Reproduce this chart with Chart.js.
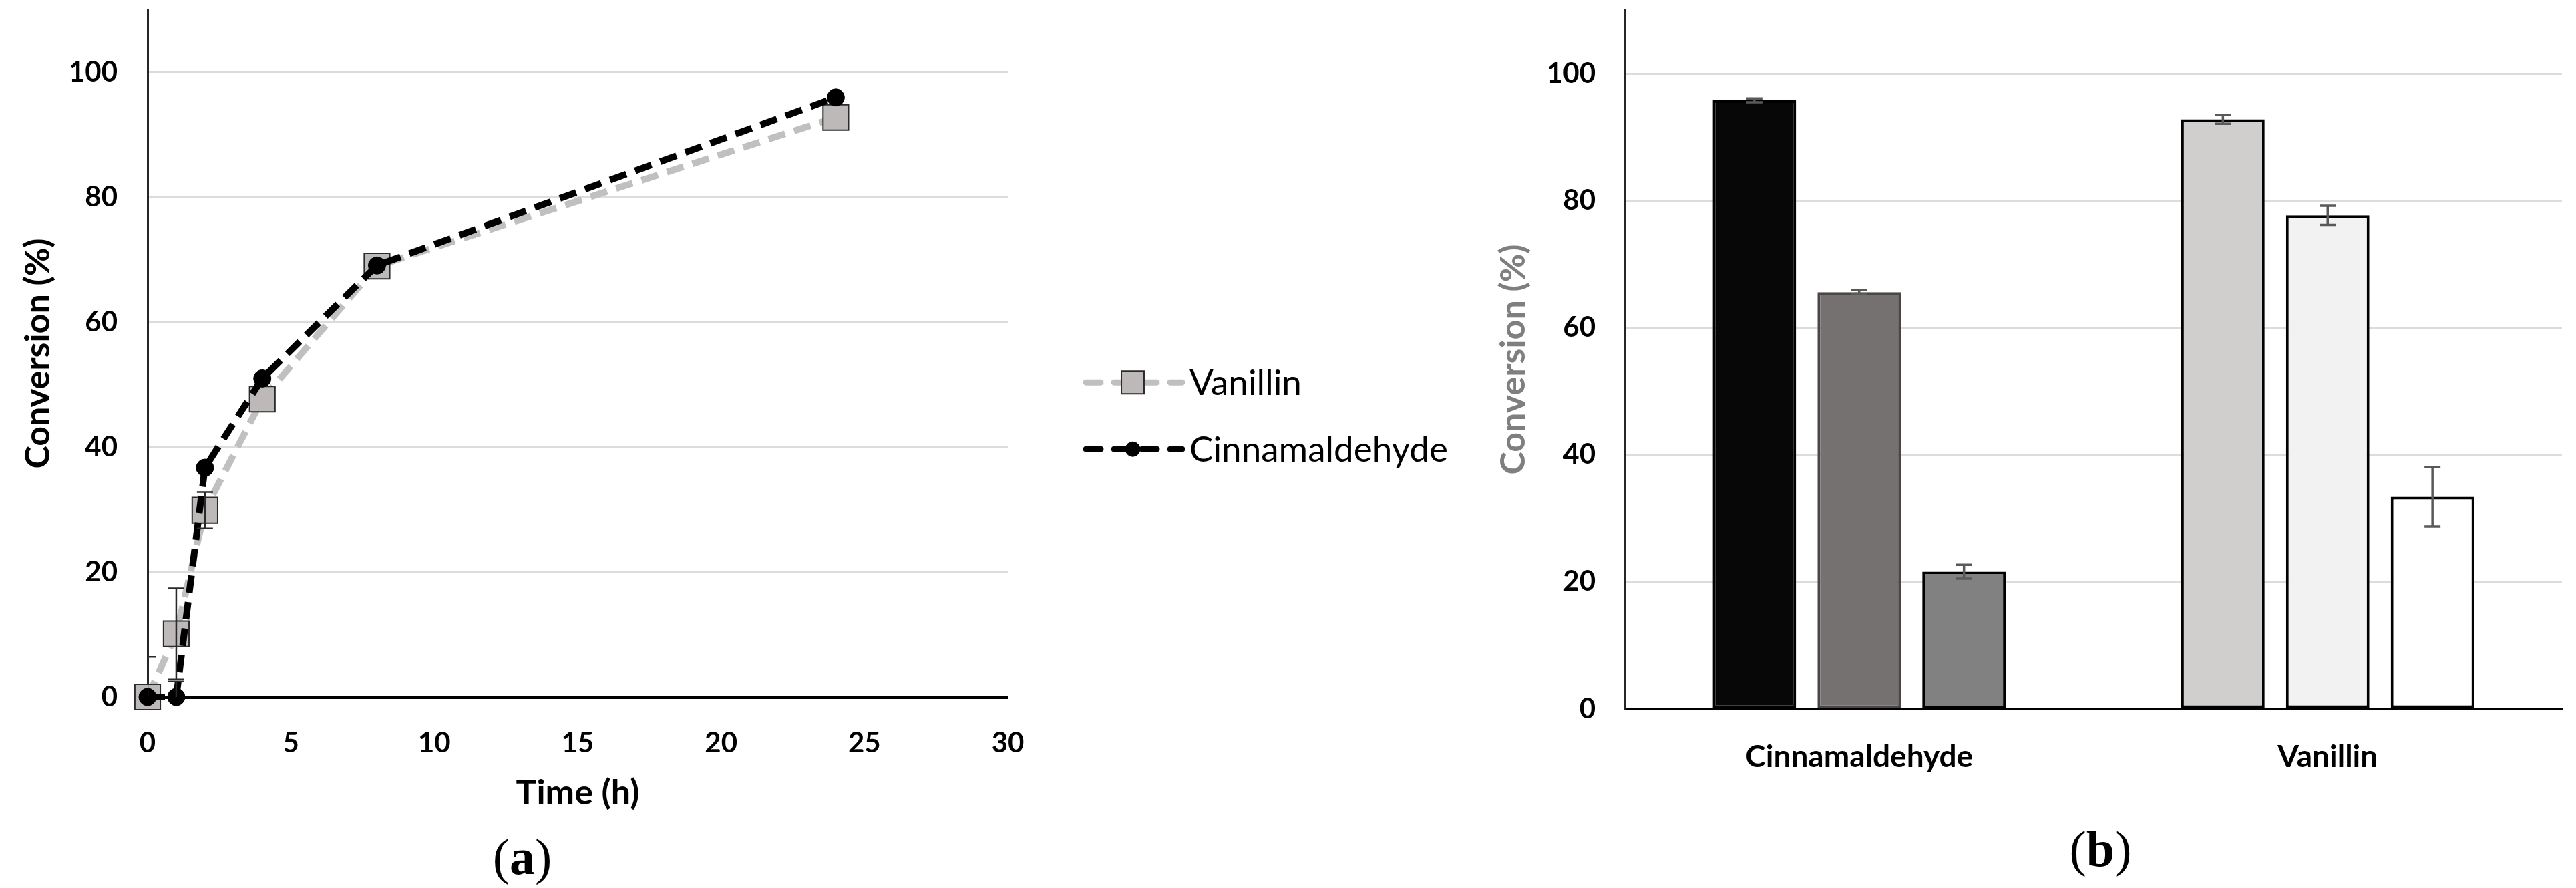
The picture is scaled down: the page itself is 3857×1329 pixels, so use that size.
<!DOCTYPE html>
<html>
<head>
<meta charset="utf-8">
<script src="https://cdn.jsdelivr.net/npm/chart.js@4.4.1/dist/chart.umd.min.js"></script>
<style>
  html, body { margin: 0; padding: 0; background: #fff; }
  body { width: 3857px; height: 1329px; position: relative; overflow: hidden; }
  canvas { position: absolute; top: 0; }
  #timeChart { left: 0; }
  #barChart { left: 2200px; }
  .panel {
    position: absolute;
    font-family: 'Liberation Serif', 'Times New Roman', serif;
    font-size: 76px;
    line-height: 1;
    color: #000;
    transform: translate(-50%, -50%);
    white-space: nowrap;
  }
</style>
</head>
<body>
<canvas id="timeChart" width="2200" height="1329"></canvas>
<canvas id="barChart" width="1657" height="1329"></canvas>
<div class="panel" style="left:782px; top:1282px">(<b>a</b>)</div>
<div class="panel" style="left:3145px; top:1270px">(<b>b</b>)</div>
<script>
// (a) conversion vs time
const hours = [0, 1, 2, 4, 8, 24];
const vanillin = [0, 10.1, 29.9, 47.7, 69, 92.8];
const vanillinErr = [6.4, 7.3, 2.9, 0, 0, 0];
const cinnamaldehyde = [0, 0, 36.7, 51, 69.1, 96];
const cinnamaldehydeErr = [0, 2.5, 0, 0, 0, 0];
const timeTicks = [0, 5, 10, 15, 20, 25, 30];
const conversionTicks = [0, 20, 40, 60, 80, 100];

// (b) conversion per substrate, three bars each
const substrates = ['Cinnamaldehyde', 'Vanillin'];
const barFirst = [95.8, 92.8];
const barFirstErr = [0.3, 0.7];
const barSecond = [65.6, 77.7];
const barSecondErr = [0.3, 1.5];
const barThird = [21.6, 33.4];
const barThirdErr = [1.1, 4.7];

const tickFont = { family: 'Lato', size: 42, weight: 'bold' };
const titleFont = { family: 'Lato', size: 52, weight: 'bold' };

// keep the plot box where the reference has it
function fixWidth(w) {
  return s => { s.width = w; s.paddingTop = 0; s.paddingBottom = 0; };
}
function fixHeight(h) {
  return s => { s.height = h; s.paddingLeft = 0; s.paddingRight = 0; };
}

// vertical error bars drawn from each dataset's "errors" array
const errorBars = {
  id: 'errorBars',
  afterDatasetsDraw(chart) {
    const ctx = chart.ctx;
    const area = chart.chartArea;
    const yScale = chart.scales.y;
    ctx.save();
    ctx.beginPath();
    ctx.rect(area.left, area.top, area.right - area.left, area.bottom - area.top);
    ctx.clip();
    chart.data.datasets.forEach((ds, i) => {
      if (!ds.errors) return;
      const meta = chart.getDatasetMeta(i);
      ctx.strokeStyle = ds.errorColor || '#333';
      ctx.lineWidth = ds.errorWidth || 2;
      const cap = (ds.capWidth || 24) / 2;
      ds.errors.forEach((err, j) => {
        if (!err) return;
        const v = ds.data[j].y !== undefined ? ds.data[j].y : ds.data[j];
        const x = meta.data[j].x;
        const top = yScale.getPixelForValue(v + err);
        const bottom = yScale.getPixelForValue(v - err);
        ctx.beginPath();
        ctx.moveTo(x, top);
        ctx.lineTo(x, bottom);
        ctx.moveTo(x - cap, top);
        ctx.lineTo(x + cap, top);
        ctx.moveTo(x - cap, bottom);
        ctx.lineTo(x + cap, bottom);
        ctx.stroke();
      });
    });
    ctx.restore();
  }
};

// legend with dashed line + marker, placed right of the plot
const lineLegend = {
  id: 'lineLegend',
  afterDraw(chart) {
    const ctx = chart.ctx;
    const area = chart.chartArea;
    const x0 = area.right + 113;
    const lineLen = 148;
    chart.data.datasets.forEach((ds, i) => {
      const y = area.top + (area.bottom - area.top) * 0.542 + i * 100;
      ctx.save();
      ctx.strokeStyle = ds.borderColor;
      ctx.lineWidth = 9;
      ctx.lineCap = 'round';
      ctx.setLineDash([22, 20]);
      ctx.beginPath();
      ctx.moveTo(x0 + 4, y);
      ctx.lineTo(x0 + lineLen, y);
      ctx.stroke();
      ctx.setLineDash([]);
      ctx.fillStyle = ds.pointBackgroundColor;
      ctx.strokeStyle = ds.pointBorderColor;
      ctx.lineWidth = ds.pointBorderWidth;
      Chart.helpers.drawPoint(ctx, {
        pointStyle: ds.pointStyle,
        radius: ds.legendRadius,
        borderWidth: ds.pointBorderWidth
      }, x0 + lineLen / 2, y);
      ctx.fillStyle = '#000';
      ctx.font = '53px Lato';
      ctx.textBaseline = 'middle';
      ctx.fillText(ds.label, x0 + lineLen + 11, y + 2);
      ctx.restore();
    });
  }
};

new Chart(document.getElementById('timeChart'), {
  type: 'line',
  data: {
    datasets: [
      {
        label: 'Vanillin',
        data: hours.map((h, i) => ({ x: h, y: vanillin[i] })),
        errors: vanillinErr,
        errorColor: '#2a2a2a',
        errorWidth: 2.5,
        capWidth: 24,
        order: 2,
        borderColor: '#c0c0c0',
        borderWidth: 10,
        borderDash: [26, 14],
        pointStyle: 'rect',
        pointRadius: 27,
        legendRadius: 24,
        pointBackgroundColor: '#bdb9b9',
        pointBorderColor: '#2b2b2b',
        pointBorderWidth: 2,
        tension: 0,
        clip: false
      },
      {
        label: 'Cinnamaldehyde',
        data: hours.map((h, i) => ({ x: h, y: cinnamaldehyde[i] })),
        errors: cinnamaldehydeErr,
        errorColor: '#2a2a2a',
        errorWidth: 2.5,
        capWidth: 24,
        order: 1,
        borderColor: '#000000',
        borderWidth: 10,
        borderDash: [26, 14],
        pointStyle: 'circle',
        pointRadius: 13,
        legendRadius: 11,
        pointBackgroundColor: '#000000',
        pointBorderColor: '#000000',
        pointBorderWidth: 1,
        tension: 0,
        clip: false
      }
    ]
  },
  options: {
    responsive: false,
    animation: false,
    devicePixelRatio: 1,
    layout: { autoPadding: false, padding: { left: 0, top: 15, right: 691, bottom: 0 } },
    plugins: { legend: { display: false }, tooltip: { enabled: false } },
    scales: {
      x: {
        type: 'linear',
        min: 0,
        max: 30,
        afterBuildTicks: s => { s.ticks = timeTicks.map(v => ({ value: v })); },
        afterFit: fixHeight(286),
        grid: { display: false, drawTicks: false },
        border: { color: '#000', width: 5 },
        ticks: { color: '#000', font: tickFont, padding: 44 },
        title: { display: true, text: 'Time (h)', color: '#000', font: titleFont, padding: { top: 0, bottom: 111 } }
      },
      y: {
        min: 0,
        max: 110,
        afterBuildTicks: s => { s.ticks = conversionTicks.map(v => ({ value: v })); },
        afterFit: fixWidth(221),
        grid: { color: '#dcdcdc', lineWidth: 3, drawTicks: false },
        border: { color: '#262626', width: 3 },
        ticks: { color: '#000', font: tickFont, padding: 45 },
        title: { display: true, text: 'Conversion (%)', color: '#000', font: titleFont, padding: { top: 26, bottom: 0 } }
      }
    }
  },
  plugins: [errorBars, lineLegend]
});

new Chart(document.getElementById('barChart'), {
  type: 'bar',
  data: {
    labels: substrates,
    datasets: [
      {
        data: barFirst,
        errors: barFirstErr,
        backgroundColor: ['#070707', '#d1cece'],
        borderColor: ['#000000', '#000000']
      },
      {
        data: barSecond,
        errors: barSecondErr,
        backgroundColor: ['#767171', '#f2f2f2'],
        borderColor: ['#4a4646', '#000000']
      },
      {
        data: barThird,
        errors: barThirdErr,
        backgroundColor: ['#818181', '#ffffff'],
        borderColor: ['#000000', '#000000']
      }
    ].map(ds => Object.assign(ds, {
      borderWidth: 4,
      borderSkipped: false,
      categoryPercentage: 0.671,
      barPercentage: 0.796,
      errorColor: '#595959',
      errorWidth: 3.5,
      capWidth: 24
    }))
  },
  options: {
    responsive: false,
    animation: false,
    devicePixelRatio: 1,
    layout: { autoPadding: false, padding: { left: 0, top: 15, right: 21, bottom: 0 } },
    plugins: { legend: { display: false }, tooltip: { enabled: false } },
    scales: {
      x: {
        afterFit: fixHeight(268),
        grid: { display: false, drawTicks: false },
        border: { color: '#000', width: 4 },
        ticks: { color: '#000', font: { family: 'Lato', size: 46, weight: 'bold' }, padding: 45 }
      },
      y: {
        min: 0,
        max: 110,
        afterBuildTicks: s => { s.ticks = conversionTicks.map(v => ({ value: v })); },
        afterFit: fixWidth(233),
        grid: { color: '#dcdcdc', lineWidth: 3, drawTicks: false },
        border: { color: '#262626', width: 3 },
        ticks: { color: '#000', font: tickFont, padding: 44 },
        title: { display: true, text: 'Conversion (%)', color: '#7f7f7f', font: titleFont, padding: { top: 35, bottom: 0 } }
      }
    }
  },
  plugins: [errorBars]
});
</script>
</body>
</html>
